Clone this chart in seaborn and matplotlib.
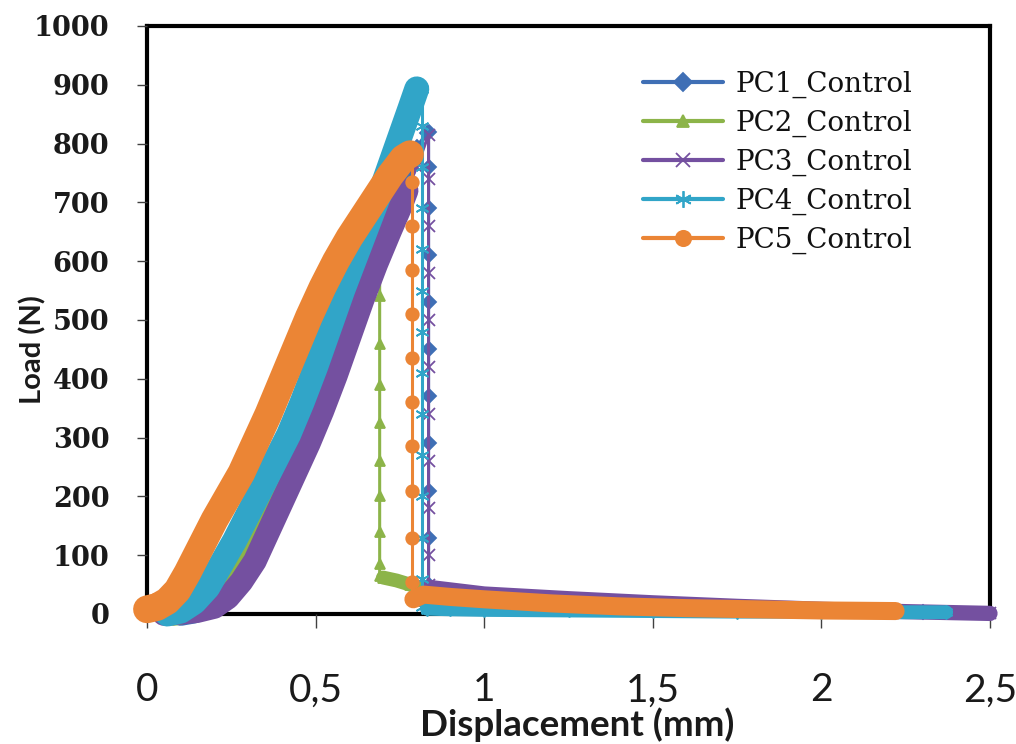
import matplotlib
matplotlib.use("Agg")
import matplotlib.pyplot as plt
import seaborn as sns
from matplotlib.lines import Line2D

# ---------------- data ----------------
series_names = ["PC1_Control", "PC2_Control", "PC3_Control", "PC4_Control", "PC5_Control"]

# PC1 : dense loading band, sparse failure drop, dense residual tail
pc1_rise_x = [0.10, 0.14, 0.18, 0.22, 0.26, 0.30, 0.34, 0.38, 0.42, 0.46, 0.50, 0.54, 0.58, 0.62, 0.66, 0.70, 0.74, 0.77]
pc1_rise_y = [0, 4, 15, 38, 70, 110, 155, 205, 255, 310, 370, 435, 500, 565, 625, 680, 730, 765]
pc1_drop_x = [0.77, 0.80, 0.83, 0.835, 0.835, 0.835, 0.835, 0.835, 0.835, 0.835, 0.835, 0.835, 0.835, 0.835]
pc1_drop_y = [765, 795, 818, 820, 760, 690, 610, 530, 450, 370, 290, 210, 130, 50]
pc1_tail_x = [0.84, 1.0, 1.25, 1.5, 1.75, 2.0, 2.3]
pc1_tail_y = [40, 30, 22, 16, 11, 7, 3]

# PC2
pc2_rise_x = [0.08, 0.12, 0.16, 0.20, 0.24, 0.28, 0.32, 0.36, 0.40, 0.44, 0.48, 0.52, 0.56, 0.60, 0.62]
pc2_rise_y = [0, 5, 18, 42, 75, 115, 160, 210, 260, 315, 370, 425, 475, 520, 540]
pc2_drop_x = [0.62, 0.66, 0.69, 0.69, 0.69, 0.69, 0.69, 0.69, 0.69, 0.69, 0.69, 0.69]
pc2_drop_y = [540, 580, 600, 540, 460, 390, 325, 260, 200, 140, 85, 65]
pc2_tail_x = [0.70, 0.74, 0.78, 0.85, 1.0, 1.3, 1.6, 1.9]
pc2_tail_y = [62, 57, 50, 35, 28, 18, 10, 5]

# PC3
pc3_rise_x = [0.05, 0.10, 0.15, 0.20, 0.24, 0.28, 0.32, 0.36, 0.40, 0.44, 0.48, 0.52, 0.56, 0.60, 0.64, 0.68, 0.72, 0.75, 0.77]
pc3_rise_y = [0, 2, 5, 12, 28, 55, 90, 140, 190, 240, 290, 345, 405, 470, 535, 595, 650, 690, 720]
pc3_drop_x = [0.77, 0.80, 0.835, 0.835, 0.835, 0.835, 0.835, 0.835, 0.835, 0.835, 0.835, 0.835, 0.835]
pc3_drop_y = [720, 760, 815, 740, 660, 580, 500, 420, 340, 260, 180, 100, 50]
pc3_tail_x = [0.84, 1.0, 1.25, 1.5, 1.75, 2.0, 2.25, 2.5]
pc3_tail_y = [45, 34, 26, 19, 13, 8, 4, 1]

# PC4
pc4_rise_x = [0.06, 0.10, 0.14, 0.18, 0.22, 0.26, 0.30, 0.34, 0.38, 0.42, 0.46, 0.50, 0.54, 0.58, 0.62, 0.66, 0.70, 0.74, 0.78, 0.80]
pc4_rise_y = [0, 5, 20, 45, 85, 125, 170, 215, 260, 305, 360, 420, 485, 550, 610, 670, 730, 795, 860, 893]
pc4_drop_x = [0.815, 0.815, 0.815, 0.815, 0.815, 0.815, 0.815, 0.815, 0.815, 0.815, 0.815, 0.815, 0.815, 0.815]
pc4_drop_y = [893, 830, 760, 690, 620, 550, 480, 410, 340, 270, 200, 130, 60, 12]
pc4_tail_x = [0.83, 0.9, 1.0, 1.25, 1.5, 1.75, 2.0, 2.2, 2.37]
pc4_tail_y = [9, 8, 7, 6, 5, 4, 4, 3, 3]

# PC5
pc5_rise_x = [0.00, 0.03, 0.06, 0.09, 0.12, 0.16, 0.20, 0.24, 0.28, 0.32, 0.36, 0.40, 0.44, 0.48, 0.52, 0.56, 0.60, 0.64, 0.68, 0.72, 0.76, 0.78]
pc5_rise_y = [8, 12, 22, 40, 70, 115, 160, 200, 240, 290, 340, 395, 450, 505, 555, 600, 640, 675, 710, 745, 775, 782]
pc5_drop_x = [0.785, 0.785, 0.785, 0.785, 0.785, 0.785, 0.785, 0.785, 0.785, 0.785, 0.785, 0.785]
pc5_drop_y = [782, 735, 660, 585, 510, 435, 360, 285, 210, 130, 55, 25]
pc5_tail_x = [0.79, 0.82, 0.9, 1.0, 1.2, 1.4, 1.6, 1.8, 2.0, 2.22]
pc5_tail_y = [25, 33, 29, 25, 18, 13, 10, 8, 6, 5]

x_ticks = [0, 0.5, 1, 1.5, 2, 2.5]
x_tick_labels = ["0", "0,5", "1", "1,5", "2", "2,5"]
y_ticks = [0, 100, 200, 300, 400, 500, 600, 700, 800, 900, 1000]

segments = {
    "PC1_Control": [(pc1_rise_x, pc1_rise_y), (pc1_drop_x, pc1_drop_y), (pc1_tail_x, pc1_tail_y)],
    "PC2_Control": [(pc2_rise_x, pc2_rise_y), (pc2_drop_x, pc2_drop_y), (pc2_tail_x, pc2_tail_y)],
    "PC3_Control": [(pc3_rise_x, pc3_rise_y), (pc3_drop_x, pc3_drop_y), (pc3_tail_x, pc3_tail_y)],
    "PC4_Control": [(pc4_rise_x, pc4_rise_y), (pc4_drop_x, pc4_drop_y), (pc4_tail_x, pc4_tail_y)],
    "PC5_Control": [(pc5_rise_x, pc5_rise_y), (pc5_drop_x, pc5_drop_y), (pc5_tail_x, pc5_tail_y)],
}

# ---------------- style ----------------
colors = {"PC1_Control": "#3F6FB5", "PC2_Control": "#8CB449", "PC3_Control": "#7450A0",
          "PC4_Control": "#31A5C8", "PC5_Control": "#EB8535"}
markers = {"PC1_Control": "D", "PC2_Control": "^", "PC3_Control": "x",
           "PC4_Control": (6, 2, 0), "PC5_Control": "o"}
msizes = {"PC1_Control": 7, "PC2_Control": 7, "PC3_Control": 8, "PC4_Control": 10, "PC5_Control": 9}
rise_lw = {"PC1_Control": 17, "PC2_Control": 17, "PC3_Control": 17, "PC4_Control": 18, "PC5_Control": 20}
tail_lw = {"PC1_Control": 10, "PC2_Control": 10, "PC3_Control": 11, "PC4_Control": 10, "PC5_Control": 13}
drop_lw = 2.2

sns.set_theme(style="white")

fig = plt.figure(figsize=(10.16, 7.44), dpi=100)
ax = fig.add_axes([147 / 1016, 130 / 744, 843 / 1016, 588 / 744])

for name in series_names:
    for (sx, sy), lw in zip(segments[name], [rise_lw[name], drop_lw, tail_lw[name]]):
        sns.lineplot(x=sx, y=sy, ax=ax, sort=False, estimator=None, legend=False,
                     color=colors[name], linewidth=lw, marker=markers[name],
                     markersize=msizes[name], markeredgecolor=colors[name],
                     markerfacecolor=colors[name], markeredgewidth=1.3,
                     solid_capstyle="round", solid_joinstyle="round", clip_on=False)

ax.set_xlim(0, 2.5)
ax.set_ylim(0, 1000)
ax.set_xticks(x_ticks)
ax.set_xticklabels(x_tick_labels)
ax.set_yticks(y_ticks)
ax.set_yticklabels([str(v) for v in y_ticks])

for sp in ax.spines.values():
    sp.set_visible(True)
    sp.set_color("black")
    sp.set_linewidth(3)
    sp.set_zorder(0.5)

ax.tick_params(axis="y", which="major", direction="out", length=7, width=1, color="#404040",
               left=True, pad=20)
ax.tick_params(axis="x", which="major", direction="out", length=10, width=1, color="#404040",
               bottom=True, pad=32)
for lab in ax.get_yticklabels():
    lab.set_fontfamily("DejaVu Serif")
    lab.set_fontweight("bold")
    lab.set_fontsize(19.5)
    lab.set_color("#1a1a1a")
for lab in ax.get_xticklabels():
    lab.set_fontfamily("Lato")
    lab.set_fontweight("normal")
    lab.set_fontsize(28)
    lab.set_color("#1a1a1a")

ax.set_xlabel("Displacement (mm)", fontfamily="Lato", fontweight="bold", fontsize=26.5, color="#1a1a1a")
ax.set_ylabel("Load (N)", fontfamily="Lato", fontweight="bold", fontsize=21, color="#1a1a1a")
ax.xaxis.set_label_coords((577 - 147) / 843, (614 - 707) / 588)
ax.yaxis.set_label_coords((46 - 147) / 843, (614 - 350) / 588)

handles = [Line2D([], [], color=colors[n], linewidth=3, marker=markers[n],
                  markersize=msizes[n] + 2, markeredgecolor=colors[n], markerfacecolor=colors[n],
                  markeredgewidth=1.3)
           for n in series_names]
leg = ax.legend(handles, series_names, loc="upper left", bbox_to_anchor=(629 / 1016, 1 - 57 / 744),
                bbox_transform=fig.transFigure, frameon=False, handlelength=2.9,
                handletextpad=0.45, labelspacing=0.42, borderpad=0,
                prop={"family": "DejaVu Serif", "size": 20})
for t in leg.get_texts():
    t.set_color("#111111")

fig.savefig("out.png", dpi=100)
